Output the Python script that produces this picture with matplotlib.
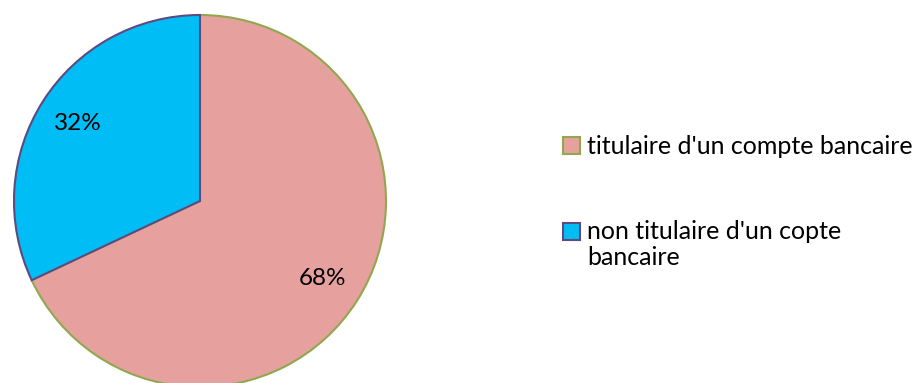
import matplotlib.pyplot as plt
from matplotlib.patches import Rectangle

# données
labels = ["titulaire d'un compte bancaire", "non titulaire d'un copte\nbancaire"]
values = [68, 32]
colors = ['#E6A19F', '#00BDF6']
edges = ['#8FA84E', '#5E4A7E']

plt.rcParams['font.family'] = ['Lato', 'DejaVu Sans']

W, H = 915, 383
fig = plt.figure(figsize=(W / 100, H / 100), dpi=100)
cx, cy, r = 200, 201, 186
ax = fig.add_axes([(cx - r) / W, (H - cy - r) / H, 2 * r / W, 2 * r / H])

wedges, texts, autotexts = ax.pie(
    values, colors=colors, startangle=90, counterclock=False,
    autopct='%d%%', pctdistance=0.78, radius=1,
    textprops={'fontsize': 17.5, 'color': 'black'})
for w, ec in zip(wedges, edges):
    w.set_edgecolor(ec)
    w.set_linewidth(1.5)
ax.set_xlim(-1, 1)
ax.set_ylim(-1, 1)
ax.set_aspect('equal')

# légende faite à la main (marqueur aligné sur la première ligne)
leg_y = [146, 231]   # centre de la première ligne, en pixels depuis le haut
s = 17
for lab, fc, ec, y in zip(labels, colors, edges, leg_y):
    fig.add_artist(Rectangle((563 / W, (H - y - s / 2) / H), s / W, s / H,
                             transform=fig.transFigure, facecolor=fc,
                             edgecolor=ec, linewidth=1.5))
    fig.text(587 / W, (H - y + 11) / H, lab, fontsize=18,
             va='top', ha='left', linespacing=1.17)

fig.savefig('out.png', dpi=100)
